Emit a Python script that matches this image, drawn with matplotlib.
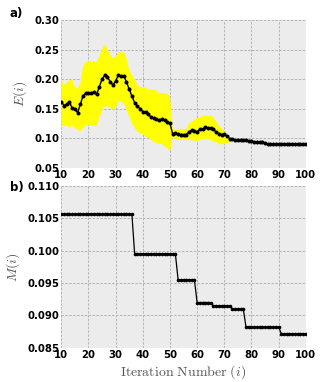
import numpy as np
import matplotlib
matplotlib.use('Agg')
import matplotlib.pyplot as plt

# matplotlib config
plt.rcParams['mathtext.fontset'] = 'cm'
plt.rcParams['font.family'] = 'DejaVu Sans'

iters = np.arange(10, 101)

# panel a: mean error and band
E_mean = [0.162, 0.155, 0.158, 0.161, 0.151, 0.150, 0.143, 0.157, 0.172, 0.176,
          0.176, 0.177, 0.178, 0.174, 0.187, 0.200, 0.207, 0.203, 0.196, 0.190,
          0.197, 0.207, 0.205, 0.206, 0.195, 0.183, 0.171, 0.160, 0.154, 0.150,
          0.145, 0.144, 0.140, 0.136, 0.134, 0.132, 0.131, 0.132, 0.130, 0.127,
          0.125, 0.107, 0.108, 0.107, 0.106, 0.106, 0.106, 0.111, 0.113, 0.112,
          0.111, 0.115, 0.115, 0.118, 0.117, 0.117, 0.115, 0.110, 0.107, 0.106,
          0.107, 0.103, 0.099, 0.098, 0.097, 0.096, 0.096, 0.096, 0.096, 0.095,
          0.095, 0.093, 0.093, 0.093, 0.093, 0.091, 0.090, 0.090, 0.090, 0.090,
          0.090, 0.090, 0.090, 0.090, 0.090, 0.090, 0.090, 0.090, 0.090, 0.090,
          0.090]
E_upper = [0.199, 0.190, 0.194, 0.198, 0.200, 0.187, 0.183, 0.193, 0.221, 0.229,
           0.230, 0.230, 0.230, 0.229, 0.238, 0.251, 0.259, 0.252, 0.241, 0.235,
           0.239, 0.245, 0.246, 0.246, 0.235, 0.216, 0.207, 0.199, 0.190, 0.186,
           0.186, 0.186, 0.182, 0.182, 0.182, 0.181, 0.176, 0.176, 0.176, 0.175,
           0.172, 0.114, 0.115, 0.115, 0.115, 0.115, 0.115, 0.125, 0.128, 0.131,
           0.134, 0.135, 0.138, 0.138, 0.138, 0.138, 0.135, 0.128, 0.121, 0.117,
           0.111, 0.106, 0.101, 0.099, 0.098, 0.097, 0.097, 0.097, 0.097, 0.096,
           0.096, 0.094, 0.094, 0.094, 0.093, 0.092, 0.091, 0.091, 0.091, 0.091,
           0.091, 0.091, 0.091, 0.091, 0.091, 0.091, 0.091, 0.091, 0.091, 0.091,
           0.091]
E_lower = [0.122, 0.120, 0.122, 0.118, 0.121, 0.117, 0.114, 0.111, 0.117, 0.122,
           0.122, 0.122, 0.122, 0.121, 0.134, 0.148, 0.154, 0.154, 0.151, 0.148,
           0.151, 0.162, 0.162, 0.159, 0.148, 0.137, 0.125, 0.117, 0.111, 0.108,
           0.106, 0.103, 0.100, 0.097, 0.094, 0.091, 0.090, 0.090, 0.086, 0.083,
           0.077, 0.103, 0.097, 0.097, 0.097, 0.097, 0.097, 0.097, 0.096, 0.096,
           0.094, 0.097, 0.098, 0.098, 0.098, 0.097, 0.094, 0.093, 0.090, 0.089,
           0.090, 0.091, 0.093, 0.095, 0.095, 0.095, 0.095, 0.095, 0.095, 0.094,
           0.094, 0.092, 0.092, 0.092, 0.092, 0.090, 0.089, 0.089, 0.089, 0.089,
           0.089, 0.089, 0.089, 0.089, 0.089, 0.089, 0.089, 0.089, 0.089, 0.089,
           0.089]

# panel b: best so far (step levels and their last iteration)
M_levels = [0.1056, 0.0995, 0.0955, 0.0920, 0.0915, 0.0910, 0.0882, 0.0872]
M_until = [36, 52, 59, 65, 72, 77, 90, 100]
M_vals = []
for i in iters:
    for lev, last in zip(M_levels, M_until):
        if i <= last:
            M_vals.append(lev)
            break

bg = '#ececec'
grid_kw = dict(color='#b4b4b4', linestyle=(0, (2.5, 1.5)), linewidth=0.7)
tick_font = dict(fontsize=7.3, fontweight='bold')
lab_col = '#555555'

fig = plt.figure(figsize=(3.26, 3.82), dpi=100)

# make the plot
ax = fig.add_axes([0.188, 0.5615, 0.750, 0.3855])
ax.set_facecolor(bg)
ax.grid(True, **grid_kw)
ax.set_axisbelow(True)
ax.fill_between(iters, E_lower, E_upper, facecolor='#ffff00', edgecolor='none', zorder=2)
ax.plot(iters, E_mean, '-', color='k', lw=1.0, marker='o', ms=1.9, zorder=3)
ax.set_xlim(10, 100)
ax.set_ylim(0.05, 0.30)
ax.set_xticks(range(10, 101, 10))
ax.set_yticks([0.05, 0.10, 0.15, 0.20, 0.25, 0.30])
ax.set_yticklabels(['%.2f' % v for v in ax.get_yticks()], **tick_font)
ax.set_xticklabels([str(v) for v in range(10, 101, 10)], **tick_font)
ax.tick_params(length=0, pad=1.5)
for s in ax.spines.values():
    s.set_visible(False)
ax.set_ylabel(r'$E(i)$', fontsize=10, color=lab_col, labelpad=4)
fig.text(0.03, 0.965, 'a)', fontsize=8.5, fontweight='bold', va='center')

ax2 = fig.add_axes([0.188, 0.0893, 0.750, 0.4241])
ax2.set_facecolor(bg)
ax2.grid(True, **grid_kw)
ax2.set_axisbelow(True)
ax2.plot(iters, M_vals, '-', color='k', lw=0.9, marker='o', ms=1.6, zorder=3)
ax2.set_xlim(10, 100)
ax2.set_ylim(0.085, 0.110)
ax2.set_xticks(range(10, 101, 10))
ax2.set_yticks([0.085, 0.090, 0.095, 0.100, 0.105, 0.110])
ax2.set_yticklabels(['%.3f' % v for v in ax2.get_yticks()], **tick_font)
ax2.set_xticklabels([str(v) for v in range(10, 101, 10)], **tick_font)
ax2.tick_params(length=0, pad=1.5)
for s in ax2.spines.values():
    s.set_visible(False)
ax2.set_ylabel(r'$M(i)$', fontsize=10, color=lab_col, labelpad=4)
ax2.set_xlabel(r'$\mathrm{Iteration\ Number}\ (i)$', fontsize=10, color=lab_col, labelpad=2)
fig.text(0.03, 0.51, 'b)', fontsize=8.5, fontweight='bold', va='center')

plt.savefig('out.png', dpi=100)
